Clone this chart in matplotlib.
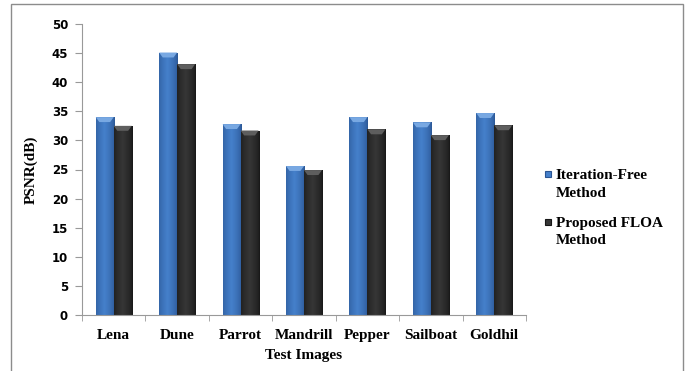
import numpy as np
import matplotlib
matplotlib.use("Agg")
import matplotlib.pyplot as plt
from matplotlib.patches import Rectangle, Polygon

# PSNR per test image for both methods
images = ["Lena", "Dune", "Parrot", "Mandrill", "Pepper", "Sailboat", "Goldhil"]
iteration_free = [34.0, 45.1, 32.8, 25.6, 34.0, 33.1, 34.7]
proposed_floa = [32.5, 43.1, 31.7, 24.9, 31.9, 30.9, 32.6]
series_names = ["Iteration-Free\nMethod", "Proposed FLOA\nMethod"]
yticks = list(range(0, 51, 5))

BLUE = ("#2a5593", "#4580cb", "#78a8e2")   # edge, middle, top cap
BLACK = ("#161616", "#363636", "#5e5e5e")

W, H = 687, 371


def shade_bar(ax, bar, colors):
    x0, y0 = bar.get_x(), bar.get_y()
    w, h = bar.get_width(), bar.get_height()
    # horizontal gradient: dark edges, brighter middle
    t = np.linspace(0, 1, 64)
    prof = np.clip(1 - np.abs(t - 0.45) / 0.55, 0, 1) ** 0.6
    c0 = np.array(matplotlib.colors.to_rgb(colors[0]))
    c1 = np.array(matplotlib.colors.to_rgb(colors[1]))
    img = (c0[None, :] + (c1 - c0)[None, :] * prof[:, None])[None, :, :]
    im = ax.imshow(img, extent=(x0, x0 + w, y0, y0 + h), aspect="auto",
                   interpolation="bilinear", zorder=2)
    im.set_clip_path(bar)
    # bevelled top cap
    d = 0.85
    cap = Polygon([(x0, y0 + h), (x0 + w, y0 + h), (x0 + w * 0.8, y0 + h - d),
                   (x0 + w * 0.2, y0 + h - d)], closed=True,
                  facecolor=colors[2], edgecolor="none", zorder=3)
    ax.add_patch(cap)


fig = plt.figure(figsize=(W / 100, H / 100), dpi=100)
ax = fig.add_axes([82 / W, 56 / H, 444 / W, 291 / H])

x = np.arange(len(images))
bw = 0.284
b1 = ax.bar(x - bw / 2, iteration_free, bw, color="none", zorder=2)
b2 = ax.bar(x + bw / 2, proposed_floa, bw, color="none", zorder=2)
for bar in b1:
    shade_bar(ax, bar, BLUE)
for bar in b2:
    shade_bar(ax, bar, BLACK)

ax.set_xlim(-0.5, len(images) - 0.5)
ax.set_ylim(0, 50)
ax.set_yticks(yticks)
ax.set_yticklabels([str(v) for v in yticks], fontfamily="DejaVu Sans",
                   fontweight="bold", fontsize=8.5)
ax.set_xticks(x)
ax.set_xticklabels(images, fontfamily="Liberation Serif", fontweight="bold",
                   fontsize=11)
ax.set_xticks(np.arange(len(images) + 1) - 0.5, minor=True)
ax.tick_params(axis="x", which="major", length=0, pad=10)
ax.tick_params(axis="x", which="minor", length=4, color="#999999")
ax.tick_params(axis="y", length=5, color="#999999", pad=5)
for side in ("top", "right"):
    ax.spines[side].set_visible(False)
for side in ("left", "bottom"):
    ax.spines[side].set_color("#999999")
    ax.spines[side].set_linewidth(0.8)

ax.set_xlabel("Test Images", fontfamily="Liberation Serif", fontweight="bold",
              fontsize=11, labelpad=5)
ax.set_ylabel("PSNR(dB)", fontfamily="Liberation Serif", fontweight="bold",
              fontsize=11, labelpad=10)

# legend: square key next to the first line of each two-line label
key_font = {"family": "Liberation Serif", "weight": "bold", "size": 11}
for i, (name, cols) in enumerate(zip(series_names, (BLUE, BLACK))):
    mid = 174 + i * 48
    fig.patches.append(Rectangle((545 / W, 1 - (mid + 3) / H), 6 / W, 6 / H,
                                 transform=fig.transFigure,
                                 facecolor=cols[1], edgecolor=cols[0], lw=0.8))
    fig.text(556 / W, 1 - (mid - 5) / H, name, va="top", ha="left",
             linespacing=1.45, fontdict=key_font)

# outer chart border (open at the bottom)
fig.patches.append(Rectangle((11 / W, -0.05), 672 / W, 1.05 - 4 / H,
                             transform=fig.transFigure, fill=False,
                             edgecolor="#8c8c8c", linewidth=1.0))

fig.savefig("out.png", dpi=100)
